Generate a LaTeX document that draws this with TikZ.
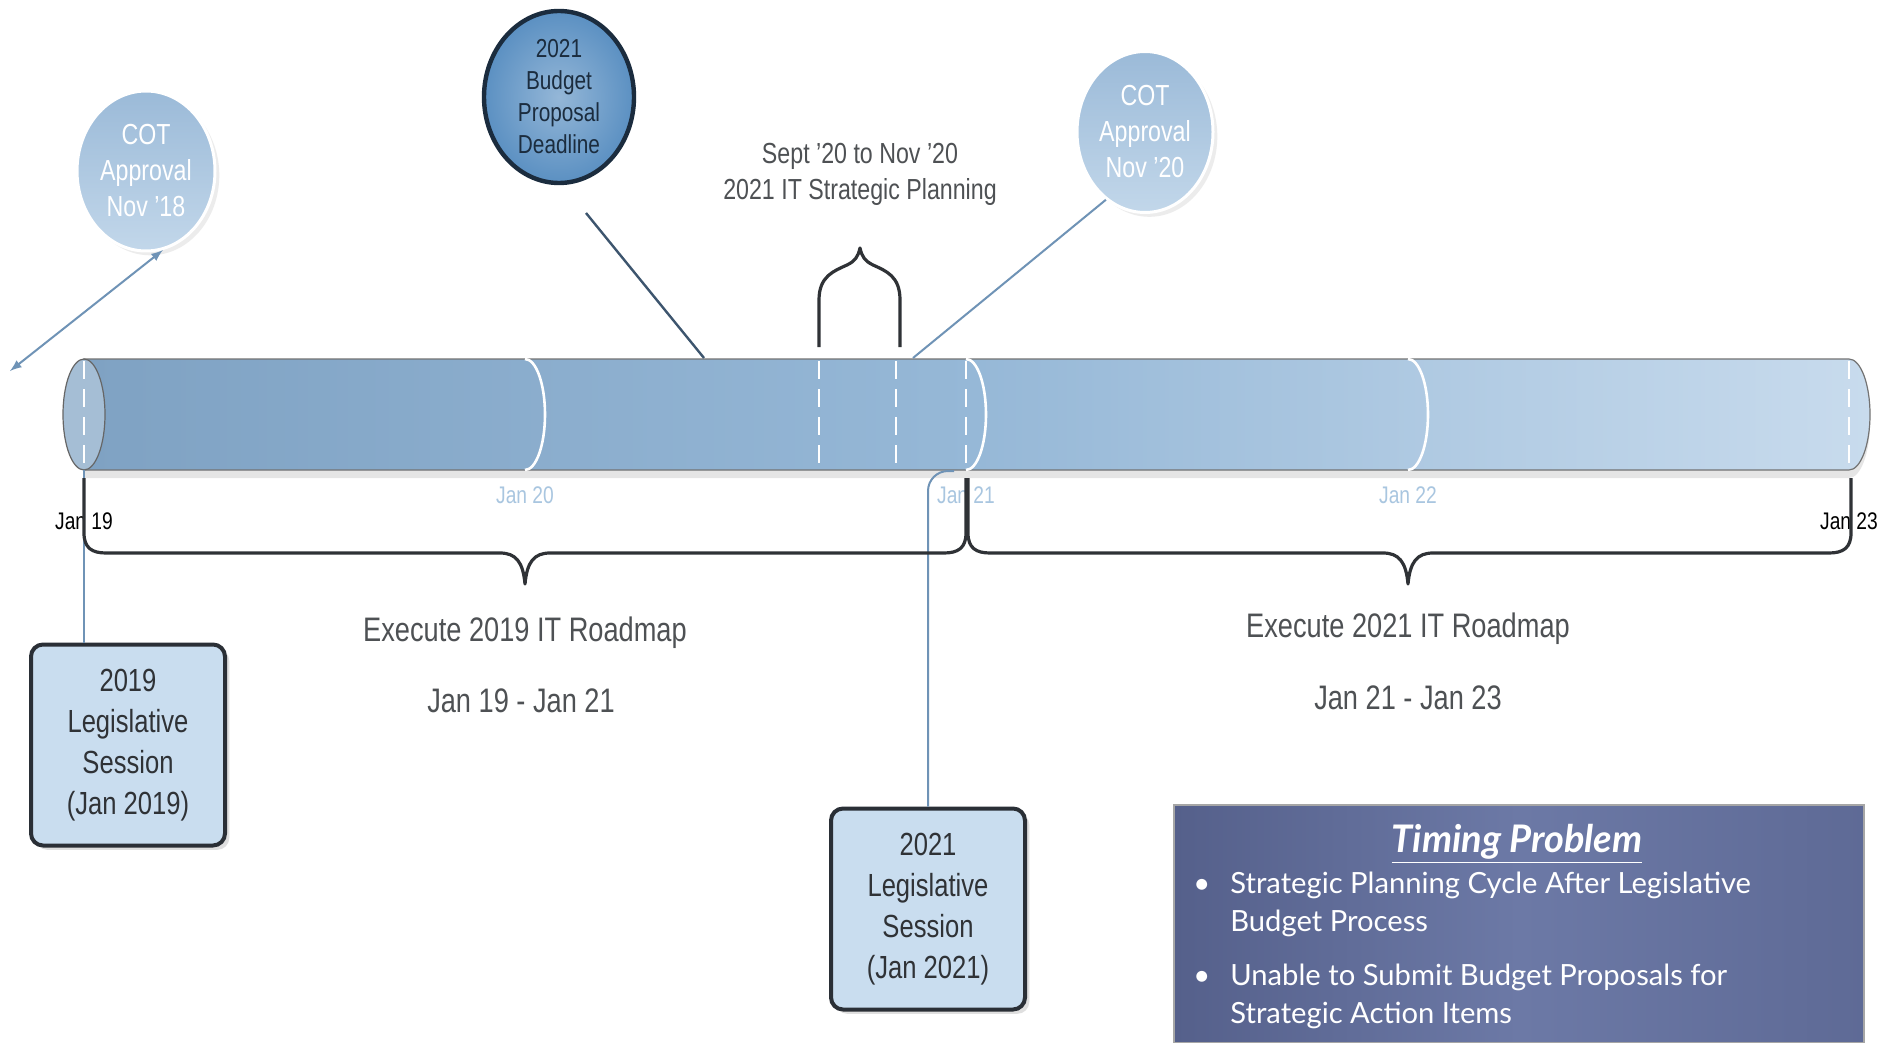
\documentclass[tikz,border=0pt]{standalone}
\usepackage{fontspec}
\newfontfamily\narrowsans[FakeStretch=0.8]{Liberation Sans}
\newfontfamily\gillsans{Lato}
\usetikzlibrary{shapes.geometric,shadows}
\definecolor{cylleft}{HTML}{7FA2C3}
\definecolor{cylmid}{HTML}{96B8D7}
\definecolor{cylright}{HTML}{C8DBED}
\definecolor{cotfill}{HTML}{9BBAD8}
\definecolor{cotlight}{HTML}{C2D7EA}
\definecolor{budfill}{HTML}{5B90C2}
\definecolor{budedge}{HTML}{1B2C3E}
\definecolor{boxfill}{HTML}{C9DDEF}
\definecolor{boxedge}{HTML}{2A2F36}
\definecolor{janblue}{HTML}{A9C6E0}
\definecolor{linkblue}{HTML}{6F93B6}
\definecolor{darktext}{HTML}{2F3236}
\definecolor{probleft}{HTML}{55608B}
\definecolor{probright}{HTML}{6C79A6}
\tikzset{
  cot/.style={ellipse, inner sep=0pt, draw=white, line width=1.5pt, top color=cotfill, bottom color=cotlight, text=white, align=center, font=\narrowsans\fontsize{14.5}{18}\selectfont, drop shadow={opacity=0.15}},
  deadline/.style={ellipse, inner sep=0pt, minimum width=75pt, minimum height=86pt, draw=budedge, line width=2.2pt, inner color=budfill!65!white, outer color=budfill, text=budedge, align=center, font=\narrowsans\fontsize{13}{16}\selectfont},
  session/.style={rectangle, rounded corners=6pt, inner sep=0pt, minimum width=97pt, minimum height=100.5pt, draw=boxedge, line width=2pt, fill=boxfill, text=darktext, align=center, font=\narrowsans\fontsize{16}{20.5}\selectfont, drop shadow={opacity=0.25}},
  brace/.style={draw=darktext, line width=1.6pt, line join=round},
  janlabel/.style={font=\narrowsans\fontsize{12}{14}\selectfont, text=janblue},
  janmark/.style={font=\narrowsans\fontsize{12}{14}\selectfont, text=black},
  roadmap/.style={font=\narrowsans\fontsize{17}{20}\selectfont, text=darktext!85!white},
  divider/.style={white, line width=1.3pt},
  cutline/.style={white, line width=1.3pt, dash pattern=on 9pt off 5pt},
  callout/.style={linkblue, line width=1pt},
  problem/.style={rectangle, inner sep=0pt, minimum width=345pt, minimum height=119pt, left color=probleft, right color=probleft!60!probright, middle color=probright, draw=black!35, line width=0.6pt}
}
\begin{document}
\begin{tikzpicture}[x=0.5pt, y=-0.5pt]
\useasboundingbox (0,0) rectangle (1879,1043);
\fill[white] (0,0) rectangle (1879,1043);
\draw[left color=cylleft, right color=cylright, middle color=cylmid, draw=black!55, line width=0.6pt, drop shadow={opacity=0.2, shadow xshift=0pt, shadow yshift=-4pt}] (84,359) -- (1849,359) arc[start angle=-90, end angle=90, x radius=21, y radius=55.5] -- (84,470) -- cycle;
\draw[fill=cylleft!70!white, draw=black!60, line width=0.6pt] (84,414.5) ellipse[x radius=21, y radius=55.5];
\foreach \d in {525,966,1408}
  \draw[divider] (\d,359) arc[start angle=-90, end angle=90, x radius=20, y radius=55.5];
\foreach \d in {84,819,896,966,1849}
  \draw[cutline] (\d,361) -- (\d,469);

\node[cot, minimum width=69pt, minimum height=80pt] (cot18) at (146,171) {COT\\Approval\\Nov ’18};
\node[deadline] (budget) at (559,97) {2021\\Budget\\Proposal\\Deadline};
\node[cot, minimum width=68pt, minimum height=80.5pt] (cot20) at (1145,132) {COT\\Approval\\Nov ’20};
\coordinate (arrowend) at (10,371);
\coordinate (budfoot) at (586,213);
\coordinate (budtop) at (704,358);
\coordinate (cot20top) at (913,358);
\draw[callout, latex-latex] (cot18.282) -- (arrowend);
\draw[callout, draw=budedge!60!linkblue, line width=1.2pt] (budfoot) -- (budtop);
\draw[callout] (cot20.240) -- (cot20top);

\node[roadmap, font=\narrowsans\fontsize{14.5}{18}\selectfont, align=center] (plan) at (860,174) {Sept ’20 to Nov ’20\\2021 IT Strategic Planning};
\draw[brace] (819,347) -- (819,300) .. controls (819,276) and (834,271) .. (847,265) .. controls (855,261) and (858,257) .. (860,248) .. controls (862,257) and (865,261) .. (873,265) .. controls (886,271) and (900,276) .. (900,300) -- (900,347);

\node[janmark] (jan19) at (84,521) {Jan 19};
\node[janlabel] (jan20) at (525,495) {Jan 20};
\node[janlabel] (jan21) at (966,495) {Jan 21};
\node[janlabel] (jan22) at (1408,495) {Jan 22};
\node[janmark] (jan23) at (1849,521) {Jan 23};

\node[session] (leg19) at (128,745) {2019\\Legislative\\Session\\(Jan 2019)};
\node[session] (leg21) at (928,909) {2021\\Legislative\\Session\\(Jan 2021)};
\coordinate (foot19) at (84,470);
\coordinate (foot21) at (954,471);
\draw[callout] (foot19) -- (foot19 |- leg19.north);
\draw[callout, rounded corners=10pt] (leg21.north) |- (foot21);

\draw[brace] (84,478) -- (84,533) .. controls (84,548) and (92,553) .. (106,553) -- (500,553) .. controls (516,553) and (523,562) .. (525,584) .. controls (527,562) and (534,553) .. (550,553) -- (944,553) .. controls (958,553) and (966,548) .. (966,533) -- (966,478);
\draw[brace] (968,478) -- (968,533) .. controls (968,548) and (976,553) .. (990,553) -- (1383,553) .. controls (1399,553) and (1406,562) .. (1408,584) .. controls (1410,562) and (1417,553) .. (1433,553) -- (1829,553) .. controls (1843,553) and (1851,548) .. (1851,533) -- (1851,478);

\node[roadmap] (exec19) at (525,633) {Execute 2019 IT Roadmap};
\node[roadmap] (span19) at (521,701) {Jan 19 - Jan 21};
\node[roadmap] (exec21) at (1408,629) {Execute 2021 IT Roadmap};
\node[roadmap] (span21) at (1408,698) {Jan 21 - Jan 23};

\node[problem] (timing) at (1519,924) {};
\node[text=white, font=\gillsans\bfseries\itshape\fontsize{19}{22}\selectfont] (title) at (1517,844) {\underline{Timing Problem}};
\node[anchor=north west, inner sep=0pt, text=white, font=\gillsans\fontsize{14.6}{19}\selectfont] (bullets) at (1193,866) {\begin{tabular}{@{}l@{\hspace{10pt}}l@{}}
\textbullet & Strategic Planning Cycle After Legislative\\
 & Budget Process\\[8pt]
\textbullet & Unable to Submit Budget Proposals for\\
 & Strategic Action Items
\end{tabular}};
\end{tikzpicture}
\end{document}
